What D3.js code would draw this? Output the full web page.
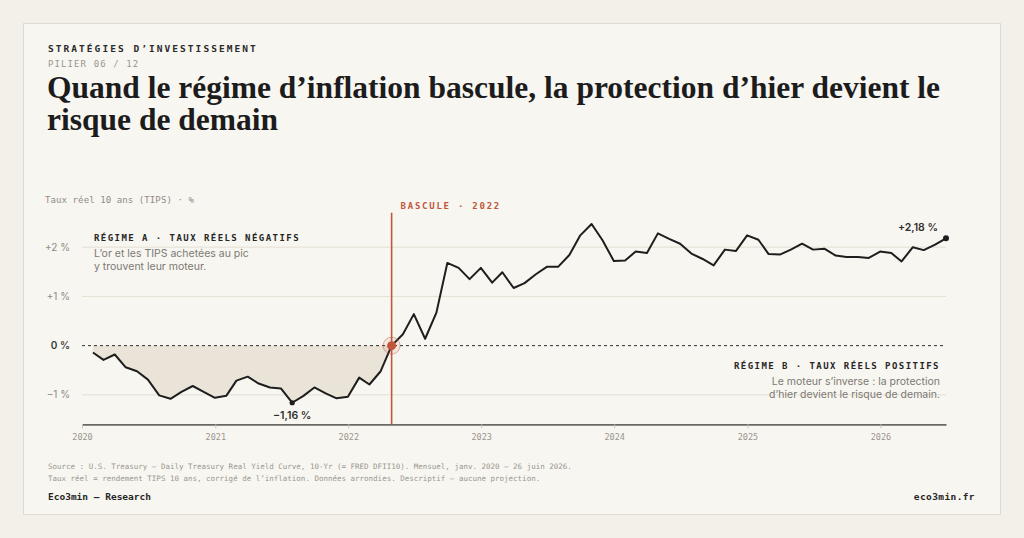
<!DOCTYPE html>
<html lang="fr">
<head>
<meta charset="utf-8">
<title>Taux réel 10 ans (TIPS)</title>
<script src="https://cdn.jsdelivr.net/npm/d3@7"></script>
<style>
  html, body { margin: 0; padding: 0; background: #f3f0ea; }
  svg { display: block; }
</style>
</head>
<body>
<div id="container"></div>
<script>
// DATA — monthly 10-yr TIPS real yield (%), Jan 2020 -> Jun 2026
const startMonth = "2020-01";
const rates2020 = [-0.14, -0.29, -0.18, -0.44, -0.52, -0.69, -1.01, -1.08, -0.94, -0.82, -0.94, -1.06];
const rates2021 = [-1.02, -0.71, -0.63, -0.77, -0.85, -0.87, -1.16, -1.02, -0.85, -0.97, -1.07, -1.04];
const rates2022 = [-0.65, -0.79, -0.52, 0.00, 0.23, 0.64, 0.14, 0.67, 1.68, 1.58, 1.35, 1.58];
const rates2023 = [1.28, 1.49, 1.17, 1.27, 1.45, 1.60, 1.60, 1.84, 2.24, 2.47, 2.14, 1.72];
const rates2024 = [1.73, 1.91, 1.88, 2.28, 2.17, 2.07, 1.87, 1.76, 1.63, 1.95, 1.92, 2.24];
const rates2025 = [2.15, 1.86, 1.85, 1.95, 2.07, 1.95, 1.97, 1.83, 1.80, 1.80, 1.78, 1.91];
const rates2026 = [1.88, 1.71, 2.00, 1.94, 2.05, 2.18];

const yearTicks = ["2020", "2021", "2022", "2023", "2024", "2025", "2026"];
const yTicks = [-1, 0, 1, 2];
const yTickLabels = ["\u22121 %", "0 %", "+1 %", "+2 %"];
const basculeMonth = "2022-04"; // real rates cross zero
const minLabel = "\u22121,16 %";
const lastLabel = "+2,18 %";

// CONSTANTS AND GLOBALS
const width = 1024, height = 538;
const margin = { top: 213, bottom: 114, left: 82, right: 78 };
const rust = "#c0573b";
const ink = "#1e1e1e";
const mono = "'DejaVu Sans Mono', monospace";
const sans = "Inter, 'Noto Sans', sans-serif";
const serif = "'Liberation Serif', 'DejaVu Serif', serif";

const parseMonth = d3.utcParse("%Y-%m");
const monthEnd = m => d3.utcDay.offset(d3.utcMonth.offset(m, 1), -1);

const rates = [].concat(rates2020, rates2021, rates2022, rates2023, rates2024, rates2025, rates2026);
const start = parseMonth(startMonth);
const data = rates.map((v, i) => ({ date: monthEnd(d3.utcMonth.offset(start, i)), value: v }));
const basculeDate = monthEnd(parseMonth(basculeMonth));
const regimeA = data.filter(d => d.date <= basculeDate);
const minPoint = d3.least(data, d => d.value);
const lastPoint = data[data.length - 1];

// + SCALES
const xScale = d3.scaleUtc()
  .domain([start, monthEnd(d3.utcMonth.offset(start, rates.length - 1))])
  .range([margin.left, width - margin.right]);

const yScale = d3.scaleLinear()
  .domain([-1.6, 2.7])
  .range([height - margin.bottom + 0.4, margin.top - 0.3]);

// CREATE SVG ELEMENT
const svg = d3.select("#container")
  .append("svg")
  .attr("width", width)
  .attr("height", height);

// card
svg.append("rect")
  .attr("x", 23.5).attr("y", 23.5)
  .attr("width", 977).attr("height", 491)
  .attr("fill", "#f8f6f1")
  .attr("stroke", "#e0dbcf");

// HEADER
svg.append("text")
  .attr("x", 48).attr("y", 52)
  .attr("font-family", mono).attr("font-size", 9.5).attr("font-weight", 700)
  .attr("letter-spacing", 2.05).attr("fill", "#2b2b2b")
  .text("STRATÉGIES D\u2019INVESTISSEMENT");

svg.append("text")
  .attr("x", 48).attr("y", 67)
  .attr("font-family", mono).attr("font-size", 9).attr("letter-spacing", 1.1)
  .attr("fill", "#9a978f")
  .text("PILIER 06 / 12");

const title = svg.append("text")
  .attr("font-family", serif).attr("font-size", 31.5).attr("font-weight", 700)
  .attr("fill", "#1c1c1c");
title.append("tspan").attr("x", 47).attr("y", 98)
  .text("Quand le régime d\u2019inflation bascule, la protection d\u2019hier devient le");
title.append("tspan").attr("x", 47).attr("y", 130)
  .text("risque de demain");

// Y AXIS TITLE
svg.append("text")
  .attr("x", 45).attr("y", 203)
  .attr("font-family", mono).attr("font-size", 9).attr("letter-spacing", 0.1)
  .attr("fill", "#8f8c84")
  .text("Taux réel 10 ans (TIPS) \u00b7 %");

// GRIDLINES + Y LABELS
const [x0, x1] = xScale.range();

svg.append("g")
  .selectAll("line")
  .data(yTicks.filter(t => t !== 0))
  .join("line")
  .attr("x1", x0).attr("x2", x1)
  .attr("y1", d => yScale(d)).attr("y2", d => yScale(d))
  .attr("stroke", "#e5dfd3").attr("stroke-width", 1);

svg.append("g")
  .selectAll("text")
  .data(yTicks)
  .join("text")
  .attr("x", 70)
  .attr("y", d => yScale(d) + 3.5)
  .attr("text-anchor", "end")
  .attr("font-family", sans).attr("font-size", 10)
  .attr("font-weight", d => d === 0 ? 600 : 400)
  .attr("fill", d => d === 0 ? "#3a3a3a" : "#8d8a83")
  .text((d, i) => yTickLabels[i]);

// REGIME A AREA (below zero)
const area = d3.area()
  .x(d => xScale(d.date))
  .y0(yScale(0))
  .y1(d => yScale(d.value));

svg.append("path")
  .datum(regimeA)
  .attr("fill", "#e9e3d8")
  .attr("d", area);

// zero line
svg.append("line")
  .attr("x1", x0).attr("x2", x1)
  .attr("y1", yScale(0)).attr("y2", yScale(0))
  .attr("stroke", "#2e2e2e").attr("stroke-width", 1)
  .attr("stroke-dasharray", "3,3");

// X AXIS
const xAxis = d3.axisBottom(xScale)
  .tickValues(yearTicks.map(y => d3.utcParse("%Y")(y)))
  .tickFormat(d3.utcFormat("%Y"))
  .tickSize(4)
  .tickSizeOuter(0);

const xAxisGroup = svg.append("g")
  .attr("class", "xAxis")
  .attr("transform", `translate(0, ${yScale(-1.6)})`)
  .call(xAxis);

xAxisGroup.select(".domain")
  .attr("stroke", "#6b6964").attr("stroke-width", 1.6);
xAxisGroup.selectAll(".tick line").attr("stroke", "#c9c4b8");
xAxisGroup.selectAll(".tick text")
  .attr("font-family", mono).attr("font-size", 8.5).attr("fill", "#98958d")
  .attr("dy", "1em");

// BASCULE LINE
svg.append("line")
  .attr("x1", xScale(basculeDate)).attr("x2", xScale(basculeDate))
  .attr("y1", yScale(2.7)).attr("y2", yScale(-1.6))
  .attr("stroke", rust).attr("stroke-width", 1.6);

svg.append("text")
  .attr("x", xScale(basculeDate) + 9).attr("y", 208.5)
  .attr("font-family", mono).attr("font-size", 9).attr("font-weight", 700)
  .attr("letter-spacing", 1.75).attr("fill", rust)
  .text("BASCULE \u00b7 2022");

// CREATE LINE
const line = d3.line()
  .x(d => xScale(d.date))
  .y(d => yScale(d.value));

svg.append("path")
  .datum(data)
  .attr("fill", "none")
  .attr("stroke", ink)
  .attr("stroke-width", 2)
  .attr("stroke-linejoin", "round")
  .attr("d", line);

// bascule marker
const bPoint = data.find(d => +d.date === +basculeDate);
svg.append("circle")
  .attr("cx", xScale(bPoint.date)).attr("cy", yScale(bPoint.value))
  .attr("r", 8.5)
  .attr("fill", rust).attr("fill-opacity", 0.1)
  .attr("stroke", rust).attr("stroke-opacity", 0.45).attr("stroke-width", 1);
svg.append("circle")
  .attr("cx", xScale(bPoint.date)).attr("cy", yScale(bPoint.value))
  .attr("r", 4.5)
  .attr("fill", rust);

// min + last markers
svg.append("circle")
  .attr("cx", xScale(minPoint.date)).attr("cy", yScale(minPoint.value))
  .attr("r", 2.6).attr("fill", ink);
svg.append("text")
  .attr("x", xScale(minPoint.date)).attr("y", yScale(minPoint.value) + 16)
  .attr("text-anchor", "middle")
  .attr("font-family", sans).attr("font-size", 10.5).attr("font-weight", 600)
  .attr("fill", "#2e2e2e")
  .text(minLabel);

svg.append("circle")
  .attr("cx", xScale(lastPoint.date)).attr("cy", yScale(lastPoint.value))
  .attr("r", 3).attr("fill", ink);
svg.append("text")
  .attr("x", xScale(lastPoint.date) - 8).attr("y", yScale(lastPoint.value) - 7.5)
  .attr("text-anchor", "end")
  .attr("font-family", sans).attr("font-size", 10.5).attr("font-weight", 600)
  .attr("fill", "#2e2e2e")
  .text(lastLabel);

// ANNOTATIONS
function annotate(x, y, anchor, head, lines) {
  const g = svg.append("g").attr("text-anchor", anchor);
  g.append("text")
    .attr("x", x).attr("y", y)
    .attr("font-family", mono).attr("font-size", 9).attr("font-weight", 700)
    .attr("letter-spacing", 1.45).attr("fill", "#262626")
    .text(head);
  g.selectAll("text.sub")
    .data(lines)
    .join("text")
    .attr("class", "sub")
    .attr("x", anchor === "end" ? x : x)
    .attr("y", (d, i) => y + 16 + i * 13)
    .attr("font-family", sans).attr("font-size", 10.5)
    .attr("fill", "#7c7973")
    .text(d => d);
}

annotate(94, 241, "start", "RÉGIME A \u00b7 TAUX RÉELS NÉGATIFS",
  ["L\u2019or et les TIPS achetées au pic", "y trouvent leur moteur."]);
annotate(940, 369, "end", "RÉGIME B \u00b7 TAUX RÉELS POSITIFS",
  ["Le moteur s\u2019inverse : la protection", "d\u2019hier devient le risque de demain."]);

// FOOTER
svg.append("text")
  .attr("x", 48).attr("y", 469)
  .attr("font-family", mono).attr("font-size", 7.5).attr("fill", "#99968e")
  .text("Source : U.S. Treasury \u2014 Daily Treasury Real Yield Curve, 10-Yr (= FRED DFII10). Mensuel, janv. 2020 \u2014 26 juin 2026.");
svg.append("text")
  .attr("x", 48).attr("y", 481)
  .attr("font-family", mono).attr("font-size", 7.5).attr("fill", "#99968e")
  .text("Taux réel = rendement TIPS 10 ans, corrigé de l\u2019inflation. Données arrondies. Descriptif \u2014 aucune projection.");

svg.append("text")
  .attr("x", 48).attr("y", 500)
  .attr("font-family", mono).attr("font-size", 9.5).attr("font-weight", 700)
  .attr("fill", "#262626")
  .text("Eco3min \u2014 Research");
svg.append("text")
  .attr("x", 975).attr("y", 500)
  .attr("text-anchor", "end")
  .attr("font-family", mono).attr("font-size", 9.5).attr("font-weight", 700)
  .attr("letter-spacing", 0.4).attr("fill", "#262626")
  .text("eco3min.fr");
</script>
</body>
</html>
